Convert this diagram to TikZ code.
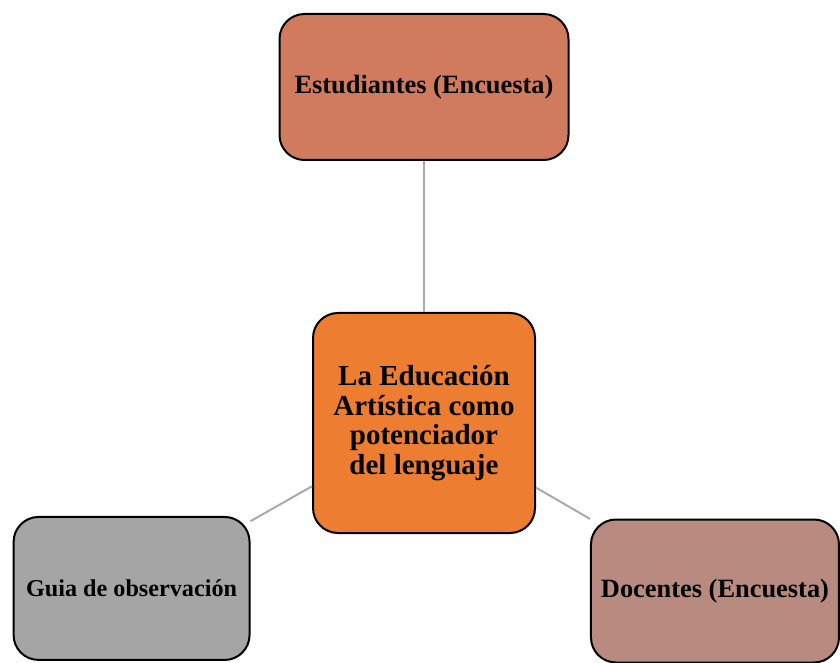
\documentclass[tikz,border=0pt]{standalone}
\usepackage{fontspec}
\setmainfont{Liberation Serif}
\usetikzlibrary{positioning}
\newdimen\nodeDist
\nodeDist=336pt

\definecolor{centerOrange}{RGB}{237,125,49}
\definecolor{studentRed}{RGB}{209,123,94}
\definecolor{guideGray}{RGB}{165,165,165}
\definecolor{teacherRose}{RGB}{185,138,128}
\definecolor{linkGray}{RGB}{170,170,170}

\begin{document}
\begin{tikzpicture}[
    x=1pt, y=1pt,
    node/.style={%
      draw=black,
      line width=2pt,
      rectangle,
      rounded corners=25pt,
      inner sep=0pt,
      align=center,
    },
    link/.style={%
      draw=linkGray,
      line width=2pt,
    },
  ]

    \useasboundingbox (0,0) rectangle (840,662);

    \node [node, fill=centerOrange, minimum width=222pt, minimum height=220pt,
      font=\bfseries\fontsize{29}{29.5}\selectfont] (A) at (424,239)
      {La Educación\\Artística como\\potenciador\\del lenguaje};
    \path (A) ++(90:\nodeDist) node [node, fill=studentRed, minimum width=289pt,
      minimum height=146pt, font=\bfseries\fontsize{26.4}{30}\selectfont] (B)
      {Estudiantes (Encuesta)};
    \path (A) ++(209.5:\nodeDist) node [node, fill=guideGray, minimum width=236pt,
      minimum height=143pt, font=\bfseries\fontsize{24.2}{28}\selectfont] (C)
      {Guia de observación};
    \path (A) ++(-30:\nodeDist) node [node, fill=teacherRose, minimum width=248pt,
      minimum height=143pt, font=\bfseries\fontsize{26.4}{30}\selectfont] (D)
      {Docentes (Encuesta)};

    \draw [link] (A) -- (B);
    \draw [link] (A) -- (C);
    \draw [link] (A) -- (D);
\end{tikzpicture}
\end{document}
